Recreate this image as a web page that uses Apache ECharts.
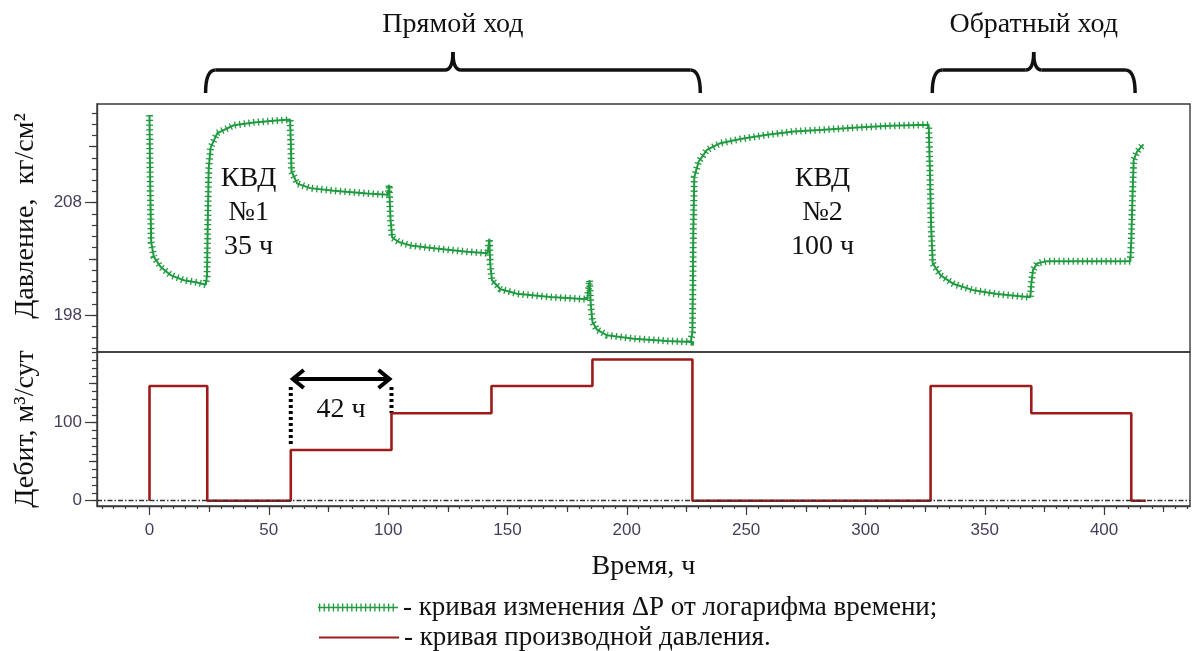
<!DOCTYPE html>
<html>
<head>
<meta charset="utf-8">
<script src="https://cdn.jsdelivr.net/npm/echarts@6.0.0/dist/echarts.min.js"></script>
<style>
html, body { margin: 0; padding: 0; background: #fff; }
#chart { width: 1192px; height: 651px; }
</style>
</head>
<body>
<div id="chart"></div>
<script>
// давление (верхняя панель): время, ч / давление, кг/см2
var pressureTime = [0, 0.3, 0.7, 1.8, 4.6, 8.8, 14.4, 20, 23.6,
	24.1, 24.4, 24.8, 25.6, 28.4, 35.3, 43.7, 52, 58.9,
	59.2, 59.5, 61.9, 67.4, 77.2, 91.2, 100, 100.4, 101, 101.7,
	104.4, 109.3, 119.1, 133, 141.7, 142.4, 142.8, 143.5,
	147.1, 154, 168, 183.4, 184.4, 184.9, 185.6, 187.5,
	191.7, 202.9, 216.9, 226.8,
	227.5, 227.7, 227.9, 228.3, 230.1, 233.6, 239.2, 247.6, 258.8, 270, 282.5, 296.5, 310.4, 326.5,
	327, 327.5, 328.2, 331.4, 337, 345.4, 355.1, 369.1,
	369.5, 370.2, 371.9, 376, 394.2, 411,
	411.4, 411.9, 412.4, 413.8, 416.5];
var pressureValue = [215.8, 209.5, 204.5, 203.2, 202.3, 201.56, 201.1, 200.9, 200.7,
	201.5, 206, 211, 212.9, 214.2, 214.9, 215.15, 215.3, 215.4,
	213.5, 210.8, 209.7, 209.3, 209.07, 208.83, 208.7, 209.6, 206.5, 204.9,
	204.5, 204.2, 203.94, 203.64, 203.5, 204.8, 202.5, 201.1,
	200.3, 199.9, 199.6, 199.4, 201.1, 199, 197.4, 196.7,
	196.2, 195.9, 195.7, 195.6,
	196.5, 201, 206, 210.3, 211.65, 212.7, 213.3, 213.67, 214.05, 214.35, 214.5, 214.7, 214.85, 214.95,
	211, 206, 202.6, 201.56, 200.76, 200.2, 199.87, 199.58,
	200.8, 202, 202.6, 202.8, 202.8, 202.8,
	204.7, 208.5, 211.8, 212.54, 213.2];

// дебит (нижняя панель): интервалы работы, ч / м3/сут
var rateStart = [0, 24.2, 59.2, 101.4, 143.3, 185.6, 227.5, 327.3, 369.5, 411.4];
var rateEnd = [24.2, 59.2, 101.4, 143.3, 185.6, 227.5, 327.3, 369.5, 411.4, 417.5];
var rateValue = [147, 0, 65, 112, 147, 181, 0, 147, 112, 0];

var timeTicks = [0, 50, 100, 150, 200, 250, 300, 350, 400];
var pressureTicks = [198, 208];
var rateTicks = [0, 100];

var nameP = 'кривая изменения ΔР от логарифма времени;';
var nameQ = 'кривая производной давления.';

var GREEN = '#1f9a3f', RED = '#9c1c1c', AXIS = '#3a3a3a', LBL = '#463d5a';
var SERIF = '"Liberation Serif", "Times New Roman", serif';
var SANS = '"Liberation Sans", Arial, sans-serif';

var X_MIN = -22, X_MAX = 436;
var P_MIN = 194.71, P_MAX = 216.79;
var Q_MIN = -6.8, Q_MAX = 190.6;

function range(from, to, step) {
	var r = [];
	for (var v = from; v <= to + 1e-9; v += step) r.push(+v.toFixed(4));
	return r;
}

var pressureData = pressureTime.map(function (t, i) { return [t, pressureValue[i]]; });
var rateData = [[rateStart[0], 0]];
rateStart.forEach(function (s, i) {
	rateData.push([s, rateValue[i]]);
	rateData.push([rateEnd[i], rateValue[i]]);
});

// иконка легенды: линия с крестиками
var crossIcon = 'path://M0,4.3H80V5.7H0Z';
for (var cx = 1; cx < 79; cx += 4.6) {
	crossIcon += 'M' + cx.toFixed(1) + ',1H' + (cx + 1.3).toFixed(1) + 'V9H' + cx.toFixed(1) + 'Z';
}
crossIcon += 'M0,0H0.1V10H0Z';

function tickAxis(kind, grid, values, len, extra) {
	var a = {
		type: 'value', gridIndex: grid, position: kind === 'x' ? 'bottom' : 'left', offset: 0,
		min: kind === 'x' ? X_MIN : (grid === 0 ? P_MIN : Q_MIN),
		max: kind === 'x' ? X_MAX : (grid === 0 ? P_MAX : Q_MAX),
		axisLine: { show: false, onZero: false },
		axisTick: { show: true, customValues: values, length: len, lineStyle: { color: AXIS, width: 1.2 } },
		axisLabel: { show: false },
		splitLine: { show: false }
	};
	for (var k in extra) a[k] = extra[k];
	return a;
}

function legendRow(name, top, extra) {
	var item = { name: name };
	for (var k in extra) item[k] = extra[k];
	return {
		left: 318, top: top, padding: 0, itemWidth: 80, itemHeight: 10,
		formatter: function (n) { return '- ' + n; },
		textStyle: { fontFamily: SERIF, fontSize: 27, lineHeight: 20, color: '#111' },
		data: [item]
	};
}

var option = {
	animation: false,
	backgroundColor: '#fff',
	grid: [
		{ left: 97, right: 2, top: 104, height: 248, show: true, borderColor: AXIS, borderWidth: 1.4 },
		{ left: 97, right: 2, top: 352, height: 154, show: true, borderColor: AXIS, borderWidth: 1.4 }
	],
	xAxis: [
		{ type: 'value', gridIndex: 0, min: X_MIN, max: X_MAX, show: false },
		tickAxis('x', 1, timeTicks, 9, {
			axisLine: { show: true, onZero: false, lineStyle: { color: AXIS, width: 1.4 } },
			axisLabel: { show: true, customValues: timeTicks, margin: 16, fontFamily: SANS, fontSize: 17, color: LBL },
			name: 'Время, ч', nameLocation: 'middle', nameGap: 47,
			nameTextStyle: { fontFamily: SERIF, fontSize: 28, color: '#111' }
		}),
		tickAxis('x', 1, range(-25, 425, 50), 6),
		tickAxis('x', 1, range(-20, 435, 5), 3)
	],
	yAxis: [
		tickAxis('y', 0, pressureTicks, 12, {
			axisLine: { show: true, onZero: false, lineStyle: { color: AXIS, width: 1.4 } },
			axisLabel: { show: true, customValues: pressureTicks, margin: 15, fontFamily: SANS, fontSize: 17, color: LBL },
			name: 'Давление,  кг/см²', nameLocation: 'middle', nameGap: 57, nameRotate: 90,
			nameTextStyle: { fontFamily: SERIF, fontSize: 28, color: '#111', padding: [0, 0, 0, 24] }
		}),
		tickAxis('y', 0, range(195, 216, 1), 5),
		tickAxis('y', 0, [203, 213], 8),
		tickAxis('y', 1, rateTicks, 12, {
			axisLine: { show: true, onZero: false, lineStyle: { color: AXIS, width: 1.4 } },
			axisLabel: { show: true, customValues: rateTicks, margin: 15, fontFamily: SANS, fontSize: 17, color: LBL },
			name: 'Дебит, м³/сут', nameLocation: 'middle', nameGap: 57, nameRotate: 90,
			nameTextStyle: { fontFamily: SERIF, fontSize: 28, color: '#111' }
		}),
		tickAxis('y', 1, range(0, 190, 10), 5),
		tickAxis('y', 1, [50, 150], 8)
	],
	legend: [
		legendRow(nameP, 594, { icon: crossIcon }),
		legendRow(nameQ, 624, { itemStyle: { opacity: 0 } })
	],
	series: [
		{
			name: nameP, type: 'line', xAxisIndex: 0, yAxisIndex: 0, data: pressureData,
			showSymbol: false, symbol: 'none', silent: true, z: 3,
			itemStyle: { color: GREEN },
			lineStyle: { color: GREEN, width: 7, type: [1.3, 3.4], cap: 'butt', join: 'miter' }
		},
		{
			name: nameP, type: 'line', xAxisIndex: 0, yAxisIndex: 0, data: pressureData,
			showSymbol: false, symbol: 'none', silent: true, z: 4,
			itemStyle: { color: GREEN },
			lineStyle: { color: GREEN, width: 2 }
		},
		{
			name: 'zero', type: 'line', xAxisIndex: 1, yAxisIndex: 3, data: [], z: 1, silent: true,
			markLine: {
				silent: true, symbol: ['none', 'none'], label: { show: false },
				lineStyle: { color: '#333', width: 1.3, type: [5, 2, 1.5, 2] },
				data: [{ yAxis: 0 }]
			}
		},
		{
			name: nameQ, type: 'line', xAxisIndex: 1, yAxisIndex: 3, data: rateData,
			showSymbol: false, symbol: 'none', silent: true, z: 3,
			itemStyle: { color: RED },
			lineStyle: { color: RED, width: 2.6 }
		}
	]
};

var chart = echarts.init(document.getElementById('chart'));
chart.setOption(option);

function xp(t) { return chart.convertToPixel({ xAxisIndex: 1 }, t); }

function brace(x1, x2, label) {
	var xc = (x1 + x2) / 2, yb = 70, ye = 93, yt = 52;
	var st = { stroke: '#111', lineWidth: 3.5, fill: null };
	return {
		type: 'group',
		children: [
			{ type: 'bezierCurve', shape: { x1: x1, y1: ye, x2: x1 + 10, y2: yb, cpx1: x1, cpy1: yb }, style: st },
			{ type: 'line', shape: { x1: x1 + 10, y1: yb, x2: xc - 8, y2: yb }, style: st },
			{ type: 'bezierCurve', shape: { x1: xc - 8, y1: yb, x2: xc, y2: yt, cpx1: xc, cpy1: yb }, style: st },
			{ type: 'bezierCurve', shape: { x1: xc, y1: yt, x2: xc + 8, y2: yb, cpx1: xc, cpy1: yb }, style: st },
			{ type: 'line', shape: { x1: xc + 8, y1: yb, x2: x2 - 10, y2: yb }, style: st },
			{ type: 'bezierCurve', shape: { x1: x2 - 10, y1: yb, x2: x2, y2: ye, cpx1: x2, cpy1: yb }, style: st },
			{ type: 'text', x: xc, y: 25, style: { text: label, font: '28px ' + SERIF, fill: '#111', align: 'center', verticalAlign: 'middle' } }
		]
	};
}

function note(x, text) {
	return { type: 'text', x: x, y: 213, style: { text: text, font: '28px ' + SERIF, lineHeight: 34, fill: '#111', align: 'center', verticalAlign: 'middle' } };
}

var a1 = xp(rateStart[2]), a2 = xp(rateStart[3]);
var ink = { stroke: '#000', lineWidth: 4, fill: null };
chart.setOption({
	graphic: [
		brace(xp(23.5), xp(230.8), 'Прямой ход'),
		brace(xp(328), xp(413), 'Обратный ход'),
		note(xp(41.5), 'КВД\n№1\n35 ч'),
		note(xp(282), 'КВД\n№2\n100 ч'),
		{ type: 'line', shape: { x1: a1 + 2, y1: 379, x2: a2 - 2, y2: 379 }, style: ink },
		{ type: 'polyline', shape: { points: [[a1 + 13, 370], [a1 + 2, 379], [a1 + 13, 388]] }, style: ink },
		{ type: 'polyline', shape: { points: [[a2 - 13, 370], [a2 - 2, 379], [a2 - 13, 388]] }, style: ink },
		{ type: 'line', shape: { x1: a1, y1: 387, x2: a1, y2: 447 }, style: { stroke: '#000', lineWidth: 4, lineDash: [3, 3] } },
		{ type: 'line', shape: { x1: a2, y1: 387, x2: a2, y2: 413 }, style: { stroke: '#000', lineWidth: 4, lineDash: [3, 3] } },
		{ type: 'text', x: (a1 + a2) / 2, y: 410, style: { text: '42 ч', font: '28px ' + SERIF, fill: '#111', align: 'center', verticalAlign: 'middle' } }
	]
});
</script>
</body>
</html>
